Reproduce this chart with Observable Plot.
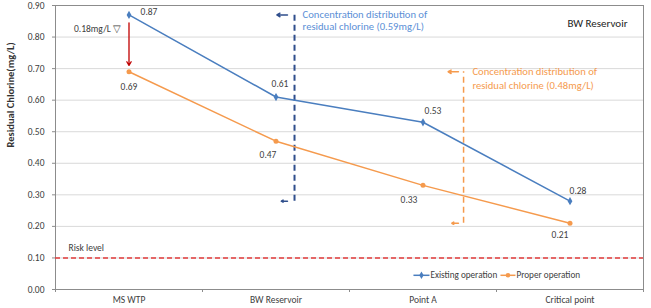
<!DOCTYPE html>
<html>
<head>
<meta charset="utf-8">
<script src="https://cdn.jsdelivr.net/npm/d3@7"></script>
<script src="https://cdn.jsdelivr.net/npm/@observablehq/plot@0.6"></script>
<style>
  html, body { margin: 0; padding: 0; background: #fff; }
  #chart svg { display: block; }
</style>
</head>
<body>
<div id="chart"></div>
<script>
// ---- data ----
const categories = ["MS WTP", "BW Reservoir", "Point A", "Critical point"];
const existing = [0.87, 0.61, 0.53, 0.28];
const proper = [0.69, 0.47, 0.33, 0.21];
const seriesNames = ["Existing operation", "Proper operation"];
const yTicks = [0, 0.1, 0.2, 0.3, 0.4, 0.5, 0.6, 0.7, 0.8, 0.9];
const riskLevel = 0.10;
const riskLabel = "Risk level";
const dropLabel = "0.18mg/L \u25BD";
const titleText = "BW Reservoir";
const yLabel = "Residual Chlorine(mg/L)";
const blueNote = "Concentration distribution of\nresidual chlorine (0.59mg/L)";
const orangeNote = "Concentration distribution of\nresidual chlorine (0.48mg/L)";

// ---- styles ----
const BLUE = "#4a7ebf";
const ORANGE = "#f59a4d";
const NAVY = "#2f4e8c";
const RED = "#c00000";
const TXT = "#404040";
const FONT = "Carlito, Lato, 'Open Sans', sans-serif";

const exData = categories.map((c, i) => ({i, c, v: existing[i]}));
const prData = categories.map((c, i) => ({i, c, v: proper[i]}));

const exOff = [[20, -3], [4, -13], [10, -11], [8, -10]];
const prOff = [[0, 15], [-8, 14], [-14, 15], [-10, 12]];

const exMin = d3.min(existing), exMax = d3.max(existing);
const prMin = d3.min(proper), prMax = d3.max(proper);
const blueX = 1.126, orangeX = 2.276;

const labelMarks = [];
exData.forEach((d, k) => labelMarks.push(Plot.text([d], {x: "i", y: "v", text: d => d.v.toFixed(2), dx: exOff[k][0], dy: exOff[k][1], fill: TXT, fontSize: 9.5})));
prData.forEach((d, k) => labelMarks.push(Plot.text([d], {x: "i", y: "v", text: d => d.v.toFixed(2), dx: prOff[k][0], dy: prOff[k][1], fill: TXT, fontSize: 9.5})));

const legendY = 0.045;
const legend = [
  {name: seriesNames[0], x1: 1.935, x2: 2.044, color: BLUE, symbol: "diamond"},
  {name: seriesNames[1], x1: 2.527, x2: 2.629, color: ORANGE, symbol: "circle"}
];

const chart = Plot.plot({
  width: 651,
  height: 308,
  marginLeft: 55,
  marginRight: 8,
  marginTop: 5,
  marginBottom: 19,
  style: {fontFamily: FONT, fontSize: "10px", color: TXT, background: "#fff"},
  x: {type: "linear", domain: [-0.5, 3.5], axis: null},
  y: {domain: [0, 0.9], axis: null},
  marks: [
    Plot.gridY(yTicks, {stroke: "#d9d9d9", strokeOpacity: 1}),
    Plot.frame({stroke: "#8c8c8c"}),
    Plot.axisY(yTicks, {tickFormat: d3.format(".2f"), tickSize: 3, tickPadding: 8, fontSize: 9.5, stroke: "#8c8c8c", fill: TXT, label: null}),
    Plot.ruleX([-0.5], {stroke: "#8c8c8c"}),
    Plot.axisX([0, 1, 2, 3], {tickFormat: i => categories[i], tickSize: 0, tickPadding: 7, fontSize: 9.5, fill: TXT, label: null}),
    Plot.axisX([-0.5, 0.5, 1.5, 2.5, 3.5], {tickFormat: () => "", tickSize: 3, stroke: "#8c8c8c", label: null}),
    Plot.text([yLabel], {frameAnchor: "left", rotate: -90, dx: -45, fontWeight: "bold", fontSize: 10.5, fill: "#333"}),

    Plot.ruleY([riskLevel], {stroke: "#e23b3b", strokeWidth: 1.5, strokeDasharray: "5,3"}),
    Plot.text([riskLabel], {x: -0.5, y: riskLevel, dx: 13, dy: -10, textAnchor: "start", fill: TXT, fontSize: 9.5}),

    // dashed range rules
    Plot.ruleX([blueX], {y1: exMin, y2: exMax, stroke: NAVY, strokeWidth: 2, strokeDasharray: "6,4"}),
    Plot.arrow([{a: blueX - 0.048, b: blueX - 0.12, y: exMax}], {x1: "a", x2: "b", y1: "y", y2: "y", stroke: NAVY, strokeWidth: 1.5, headLength: 5}),
    Plot.arrow([{a: blueX - 0.048, b: blueX - 0.09, y: exMin}], {x1: "a", x2: "b", y1: "y", y2: "y", stroke: NAVY, strokeWidth: 1.5, headLength: 5}),
    Plot.text([blueNote], {x: blueX + 0.055, y: 0.89, textAnchor: "start", lineAnchor: "top", fill: "#5b8fd6", fontSize: 10.6, lineHeight: 1.2}),

    Plot.ruleX([orangeX], {y1: prMin, y2: prMax, stroke: ORANGE, strokeWidth: 1.5, strokeDasharray: "6,4"}),
    Plot.arrow([{a: orangeX - 0.035, b: orangeX - 0.105, y: prMax}], {x1: "a", x2: "b", y1: "y", y2: "y", stroke: ORANGE, strokeWidth: 1.5, headLength: 5}),
    Plot.arrow([{a: orangeX - 0.035, b: orangeX - 0.08, y: prMin}], {x1: "a", x2: "b", y1: "y", y2: "y", stroke: ORANGE, strokeWidth: 1.5, headLength: 5}),
    Plot.text([orangeNote], {x: orangeX + 0.06, y: 0.71, textAnchor: "start", lineAnchor: "top", fill: ORANGE, fontSize: 10.6, lineHeight: 1.3}),

    // series
    Plot.line(exData, {x: "i", y: "v", stroke: BLUE, strokeWidth: 1.5}),
    Plot.dot(exData, {x: "i", y: "v", symbol: "diamond", r: 2.5, fill: BLUE}),
    Plot.line(prData, {x: "i", y: "v", stroke: ORANGE, strokeWidth: 1.5}),
    Plot.dot(prData, {x: "i", y: "v", symbol: "circle", r: 2.5, fill: ORANGE}),

    // drop arrow
    Plot.arrow([{x: 0, a: existing[0] - 0.025, b: proper[0] + 0.02}], {x1: "x", x2: "x", y1: "a", y2: "b", stroke: RED, strokeWidth: 1.3, headLength: 5}),
    Plot.text([dropLabel], {x: 0, y: existing[0] - 0.045, dx: -8, textAnchor: "end", fill: TXT, fontSize: 9.5}),

    ...labelMarks,

    Plot.text([titleText], {frameAnchor: "top-right", dx: -16, dy: 14, textAnchor: "end", fill: "#222", fontSize: 11}),

    // legend
    Plot.link(legend, {x1: "x1", x2: "x2", y1: () => legendY, y2: () => legendY, stroke: "color", strokeWidth: 1.5}),
    Plot.dot(legend, {x: d => (d.x1 + d.x2) / 2, y: () => legendY, symbol: "symbol", fill: "color", r: 2.3}),
    Plot.text(legend, {x: "x2", y: () => legendY, text: "name", dx: 1, textAnchor: "start", fill: TXT, fontSize: 9.2})
  ]
});
document.getElementById("chart").appendChild(chart);
</script>
</body>
</html>
